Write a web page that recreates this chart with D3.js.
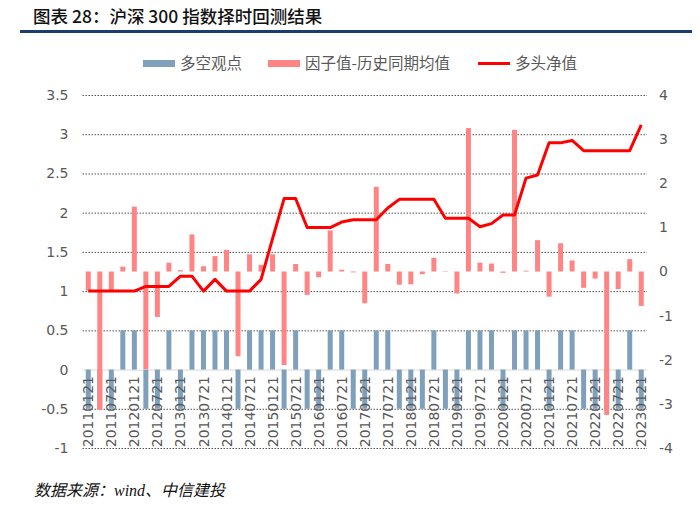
<!DOCTYPE html>
<html><head><meta charset="utf-8">
<script src="https://cdn.jsdelivr.net/npm/d3@7"></script>
<style>body{margin:0;background:#fff} svg{display:block}</style>
</head><body>
<svg id="c" width="700" height="507"></svg>
<script>
const dates = [
  "20110121","20110421","20110721","20111021",
  "20120121","20120421","20120721","20121021",
  "20130121","20130421","20130721","20131021",
  "20140121","20140421","20140721","20141021",
  "20150121","20150421","20150721","20151021",
  "20160121","20160421","20160721","20161021",
  "20170121","20170421","20170721","20171021",
  "20180121","20180421","20180721","20181021",
  "20190121","20190421","20190721","20191021",
  "20200121","20200421","20200721","20201021",
  "20210121","20210421","20210721","20211021",
  "20220121","20220421","20220721","20221021",
  "20230121"
];
// 多空观点 (left axis)
const views = [-0.5,-0.5,-0.5,0.5,0.5,-0.5,-0.5,0.5,-0.5,0.5,
  0.5,0.5,0.5,-0.5,0.5,0.5,0.5,-0.5,0.5,-0.5,
  -0.5,0.5,0.5,-0.5,-0.5,0.5,0.5,-0.5,-0.5,-0.5,
  0.5,-0.5,-0.5,0.5,0.5,0.5,-0.5,0.5,0.5,0.5,
  -0.5,0.5,0.5,-0.5,-0.5,-0.5,-0.5,0.5,-0.5];
// 因子值-历史同期均值 (right axis)
const factorDiff = [-0.43,-3.14,-0.42,0.11,1.47,-2.21,-1.03,0.20,0.03,0.84,
  0.12,0.35,0.49,-1.92,0.39,0.15,0.39,-2.12,0.17,-0.53,
  -0.13,0.93,0.04,-0.02,-0.72,1.92,0.17,-0.30,-0.29,-0.06,
  0.31,0.01,-0.50,3.25,0.20,0.18,-0.03,3.21,0.02,0.71,
  -0.57,0.64,0.25,-0.37,-0.16,-3.25,-0.40,0.28,-0.78];
// 多头净值 (left axis)
const navValues = [1.00,1.00,1.00,1.00,1.00,1.06,1.06,1.06,1.19,1.19,
  1.00,1.15,1.00,1.00,1.00,1.15,1.67,2.18,2.18,1.81,
  1.81,1.81,1.88,1.91,1.91,1.91,2.06,2.17,2.17,2.17,
  2.17,1.93,1.93,1.93,1.82,1.86,1.97,1.97,2.44,2.48,
  2.89,2.89,2.92,2.79,2.79,2.79,2.79,2.79,3.12];
const leftTicks = [-1,-0.5,0,0.5,1,1.5,2,2.5,3,3.5];
const rightTicks = [-4,-3,-2,-1,0,1,2,3,4];
const legendLabels = ["多空观点","因子值-历史同期均值","多头净值"];
const titleText = "图表 28：沪深 300 指数择时回测结果";
const sourceText = "数据来源：wind、中信建投";

(function () {
const colBlue = "#7fa0bb", colPink = "#ff8585", colRed = "#ff0000", colText = "#595959";
const svg = d3.select("#c");
const pL = 82.5, pR = 647, pT = 95, pB = 448;
const x = d3.scaleBand().domain(dates).range([pL, pR]);
const yL = d3.scaleLinear().domain([-1, 3.5]).range([pB, pT]);
const yR = d3.scaleLinear().domain([-4, 4]).range([pB, pT]);
const cx = d => x(d) + x.bandwidth() / 2;
const barW = 5;

// title
svg.append("text").attr("x", 33).attr("y", 23).text(titleText)
  .attr("font-family", "'Noto Sans CJK SC', sans-serif").attr("font-size", 17.5)
  .attr("font-weight", 500).attr("fill", "#111");
svg.append("rect").attr("x", 20).attr("y", 30).attr("width", 672).attr("height", 3).attr("fill", "#1c3e6e");

// grid + left axis
const gL = svg.append("g").attr("transform", `translate(${pL},0)`)
  .call(d3.axisLeft(yL).tickValues(leftTicks).tickSize(-(pR - pL)).tickPadding(14).tickFormat(d => String(d)));
gL.select(".domain").remove();
gL.selectAll(".tick line").attr("stroke", d => d === 0 ? "#d9d9d9" : "#555")
  .attr("stroke-dasharray", d => d === 0 ? null : "1.5,1.5").attr("stroke-width", 1);
gL.selectAll(".tick text").attr("font-family", "'DejaVu Sans', sans-serif").attr("font-size", 14).attr("fill", colText);

// right axis
const gR = svg.append("g").attr("transform", `translate(${pR},0)`)
  .call(d3.axisRight(yR).tickValues(rightTicks).tickSize(0).tickPadding(12).tickFormat(d => String(d)));
gR.select(".domain").remove();
gR.selectAll(".tick text").attr("font-family", "'DejaVu Sans', sans-serif").attr("font-size", 14).attr("fill", colText);

// blue bars
svg.append("g").selectAll("rect").data(dates).join("rect")
  .attr("x", d => cx(d) - barW / 2).attr("width", barW)
  .attr("y", (d, i) => Math.min(yL(0), yL(views[i])))
  .attr("height", (d, i) => Math.abs(yL(views[i]) - yL(0)))
  .attr("fill", colBlue);

// pink bars
svg.append("g").selectAll("rect").data(dates).join("rect")
  .attr("x", d => cx(d) - barW / 2).attr("width", barW)
  .attr("y", (d, i) => Math.min(yR(0), yR(factorDiff[i])))
  .attr("height", (d, i) => Math.abs(yR(factorDiff[i]) - yR(0)))
  .attr("fill", colPink);

// x labels
svg.append("g").selectAll("text").data(dates.filter((d, i) => i % 2 === 0)).join("text")
  .attr("transform", d => `translate(${cx(d)},376) rotate(-90)`)
  .attr("text-anchor", "end").attr("dy", "0.36em")
  .attr("font-family", "'DejaVu Sans', sans-serif").attr("font-size", 14).attr("fill", colText)
  .text(d => d);

// line
svg.append("path").datum(dates)
  .attr("d", d3.line().x(d => cx(d)).y((d, i) => yL(navValues[i])))
  .attr("fill", "none").attr("stroke", colRed).attr("stroke-width", 3).attr("stroke-linejoin", "round");

// legend
const lg = svg.append("g").attr("font-family", "'Noto Sans CJK SC', sans-serif").attr("font-size", 15.5).attr("fill", colText);
const legX = [143, 268, 478];
lg.append("rect").attr("x", legX[0]).attr("y", 60).attr("width", 32).attr("height", 7).attr("fill", colBlue);
lg.append("rect").attr("x", legX[1]).attr("y", 60).attr("width", 32).attr("height", 7).attr("fill", colPink);
lg.append("rect").attr("x", legX[2]).attr("y", 62).attr("width", 32).attr("height", 3).attr("fill", colRed);
legendLabels.forEach((t, i) => {
  lg.append("text").attr("x", legX[i] + 37).attr("y", 63.5).attr("dy", "0.35em").text(t);
});

// source
svg.append("text").attr("x", 34).attr("y", 496).text(sourceText)
  .attr("font-family", "'Liberation Serif', 'Noto Sans CJK SC', serif").attr("font-style", "italic")
  .attr("font-size", 16).attr("fill", "#111");
})();
</script>
</body></html>
